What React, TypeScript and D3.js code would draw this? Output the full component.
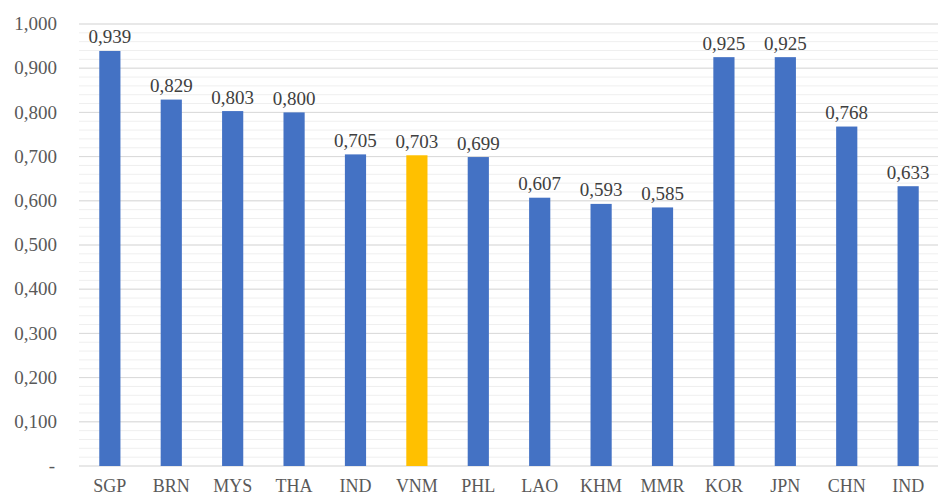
import React from "react";
import * as d3 from "d3";

const categories = ["SGP", "BRN", "MYS", "THA", "IND", "VNM", "PHL", "LAO", "KHM", "MMR", "KOR", "JPN", "CHN", "IND"];
const values = [0.939, 0.829, 0.803, 0.8, 0.705, 0.703, 0.699, 0.607, 0.593, 0.585, 0.925, 0.925, 0.768, 0.633];
const highlight = [false, false, false, false, false, true, false, false, false, false, false, false, false, false];
const majorTicks = [0, 0.1, 0.2, 0.3, 0.4, 0.5, 0.6, 0.7, 0.8, 0.9, 1.0];
const minorTicks = d3.range(0, 51).map((i) => i / 50);

const W = 938;
const H = 495;
const left = 79;
const right = 939;
const top = 24;
const bottom = 466;

const fmt = (v: number) => (v === 0 ? "-" : d3.format(".3f")(v).replace(".", ","));

export default function App() {
  const x = d3.scaleBand<number>().domain(d3.range(categories.length)).range([left, right]).paddingInner(0.655).paddingOuter(0.33);
  const y = d3.scaleLinear().domain([0, 1]).range([bottom, top]);
  const font = "'Liberation Serif', 'Times New Roman', serif";
  return (
    <svg width={W} height={H} style={{ position: "absolute", left: 0, top: 0, background: "#fff" }} fontFamily={font}>
      {minorTicks.map((t, i) => (
        <line key={"m" + i} x1={left} x2={right} y1={y(t)} y2={y(t)} stroke="#efefef" strokeWidth={1} />
      ))}
      {majorTicks.map((t, i) => (
        <line key={"M" + i} x1={left} x2={right} y1={y(t)} y2={y(t)} stroke="#d9d9d9" strokeWidth={1} />
      ))}
      {majorTicks.map((t, i) => (
        <text key={"t" + i} x={t === 0 ? 55 : 57} y={y(t)} dy="0.33em" textAnchor="end" fontSize={19} fill="#595959">
          {fmt(t)}
        </text>
      ))}
      {values.map((v, i) => (
        <rect key={"b" + i} x={x(i)} y={y(v)} width={x.bandwidth()} height={y(0) - y(v)} fill={highlight[i] ? "#ffc000" : "#4472c4"} />
      ))}
      {values.map((v, i) => (
        <text key={"v" + i} x={(x(i) as number) + x.bandwidth() / 2} y={y(v) - 7.5} textAnchor="middle" fontSize={19} fill="#404040">
          {fmt(v)}
        </text>
      ))}
      {categories.map((c, i) => (
        <text key={"c" + i} x={(x(i) as number) + x.bandwidth() / 2} y={492} textAnchor="middle" fontSize={18} fill="#595959">
          {c}
        </text>
      ))}
    </svg>
  );
}
